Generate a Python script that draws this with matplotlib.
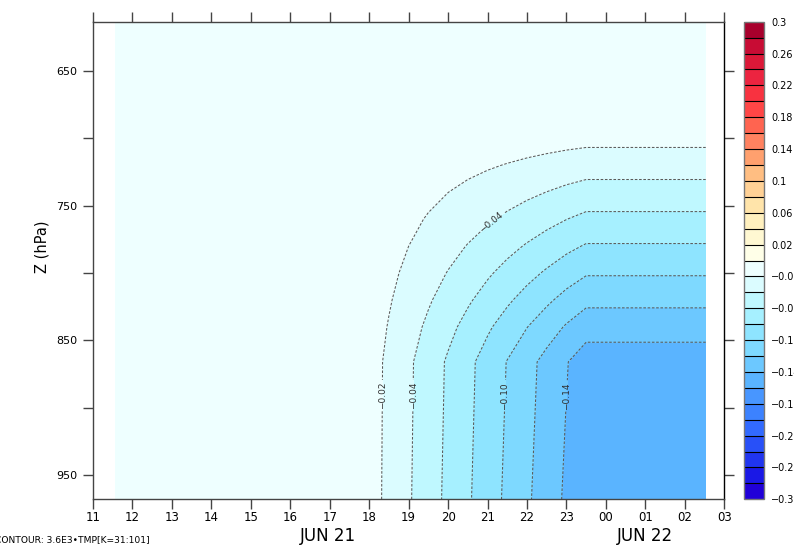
import numpy as np
import matplotlib
matplotlib.use("Agg")
import matplotlib.pyplot as plt

# hours counted from 00 JUN 21 (24 = 00 JUN 22)
times = [11.56, 17.5, 18.0, 18.5, 19.0, 19.5, 20.0, 20.5, 21.0, 21.5,
         22.0, 22.5, 23.0, 23.5, 26.53]
time_weight = [0.0, 0.0, 0.076, 0.160, 0.245, 0.330, 0.415, 0.500, 0.585,
               0.670, 0.755, 0.839, 0.924, 1.0, 1.0]

pressures = [614, 680, 700, 720, 740, 760, 780, 800, 820, 840, 866, 968]
level_weight = [0.0, 0.0, 0.092, 0.200, 0.309, 0.417, 0.526, 0.634, 0.742,
                0.851, 0.97, 1.0]

amplitude = -0.155

hour_labels = ["11", "12", "13", "14", "15", "16", "17", "18", "19", "20",
               "21", "22", "23", "00", "01", "02", "03"]
p_ticks = [650, 700, 750, 800, 850, 900, 950]
p_labels = ["650", "", "750", "", "850", "", "950"]

levels = np.round(np.arange(-0.30, 0.301, 0.02), 2)
labelled = [-0.14, -0.10, -0.04, -0.02]
# Ferret default palette, from -0.3 upward
band_colors = [
    "#2000d8", "#1a18e6", "#2035f0", "#2850f8", "#326aff", "#3c82ff",
    "#4896ff", "#5ab4ff", "#6cc8ff", "#7ed9ff", "#8ee4ff", "#a6f0ff",
    "#bff8ff", "#dbfcff", "#eeffff",
    "#ffffe8", "#fff8d2", "#fff0be", "#ffe4aa", "#ffd196", "#ffbe82",
    "#ffa06e", "#ff8260", "#ff6450", "#ff4646", "#f83240", "#ec2440",
    "#dc1838", "#c80c34", "#a8002c",
]
key_ticks = [0.3, 0.26, 0.22, 0.18, 0.14, 0.1, 0.06, 0.02,
             -0.02, -0.06, -0.1, -0.14, -0.18, -0.22, -0.26, -0.3]
key_labels = ["0.3", "0.26", "0.22", "0.18", "0.14", "0.1", "0.06", "0.02",
              "\u22120.02", "\u22120.06", "\u22120.1", "\u22120.14",
              "\u22120.18", "\u22120.22", "\u22120.26", "\u22120.3"]

field = amplitude * np.outer(level_weight, time_weight)

fig = plt.figure(figsize=(7.94, 5.46), dpi=100)
ax = fig.add_axes([0.1171, 0.0855, 0.7951, 0.8736])

cf = ax.contourf(times, pressures, field, levels=levels, colors=band_colors)

plain = [v for v in levels if v < 0 and not np.isclose(v, labelled).any()]
dash = (0, (2.5, 1.6))
cs1 = ax.contour(times, pressures, field, levels=plain,
                 colors="#5a5a5a", linewidths=0.75)
cs1.set_linestyle(dash)
cs2 = ax.contour(times, pressures, field, levels=labelled,
                 colors="#5a5a5a", linewidths=0.75)
cs2.set_linestyle(dash)

label_spots = [(18.31, 891), (19.07, 891), (21.35, 891), (22.87, 891),
               (21.1, 762)]
texts = ax.clabel(cs2, manual=label_spots,
                  fmt=lambda v: f"{v:.2f}".replace("-", "\u2212"),
                  fontsize=6.5, colors="#303030", inline=True, inline_spacing=2)
for t in texts:
    x, y = t.get_position()
    if y < 800:
        t.set_rotation(39)
    else:
        t.set_rotation(90)

ax.set_xlim(11, 27)
ax.set_ylim(968, 614)
ax.set_xticks(range(11, 28))
ax.set_xticklabels(hour_labels)
ax.set_yticks(p_ticks)
ax.set_yticklabels(p_labels)
ax.tick_params(axis="x", which="both", direction="out", length=7.2, width=1,
               top=True, labelsize=8.5, pad=1, color="#444444")
ax.tick_params(axis="y", which="both", direction="out", length=7.2, width=1,
               right=True, labelsize=8, pad=4, color="#444444")
for s in ax.spines.values():
    s.set_color("#444444")
    s.set_linewidth(1)
ax.spines["right"].set_color("black")

fig.text(41.7 / 794, (546 - 247) / 546, "Z (hPa)", rotation=90,
         ha="center", va="center", fontsize=10.5)
fig.text(328 / 794, 0.0183, "JUN 21", ha="center", va="center", fontsize=12)
fig.text(645 / 794, 0.0183, "JUN 22", ha="center", va="center", fontsize=12)
fig.text(-5 / 794, 0.011, "CONTOUR: 3.6E3\u2022TMP[K=31:101]", ha="left",
         va="center", fontsize=6.6)

cax = fig.add_axes([744 / 794, 0.0855, 20.3 / 794, 0.8747])
cb = fig.colorbar(cf, cax=cax, ticks=key_ticks, drawedges=True)
cb.set_ticklabels(key_labels)
cb.dividers.set_color("black")
cb.dividers.set_linewidth(0.8)
cb.outline.set_edgecolor("#777777")
cb.outline.set_linewidth(1)
cax.tick_params(length=0, pad=5, labelsize=7)

fig.savefig("out.png", dpi=100)
